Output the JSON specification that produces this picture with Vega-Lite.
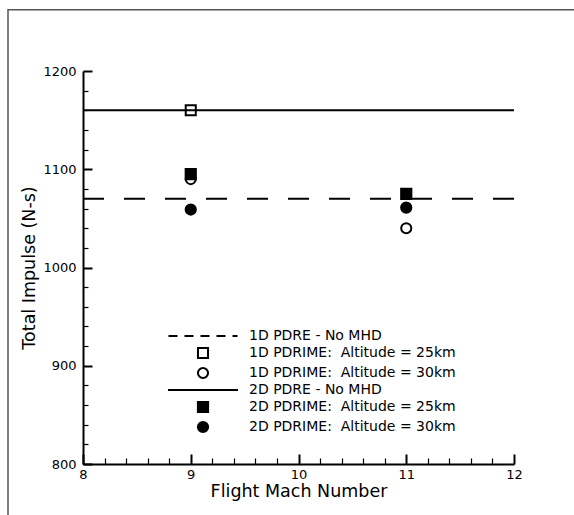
{
  "$schema": "https://vega.github.io/schema/vega-lite/v6.json",
  "width": 431,
  "height": 393,
  "autosize": {"type": "none"},
  "padding": {"left": 83, "top": 71, "right": 60, "bottom": 51},
  "background": "white",
  "config": {
    "view": {"stroke": null},
    "font": "DejaVu Sans"
  },
  "datasets": {
    "baselines": [
      {"series": "1D PDRE - No MHD", "mach": 8, "impulse": 1070},
      {"series": "1D PDRE - No MHD", "mach": 12, "impulse": 1070},
      {"series": "2D PDRE - No MHD", "mach": 8, "impulse": 1160},
      {"series": "2D PDRE - No MHD", "mach": 12, "impulse": 1160}
    ],
    "pdrime": [
      {"series": "1D PDRIME:\u00a0 Altitude = 25km", "mach": 9, "impulse": 1160},
      {"series": "1D PDRIME:\u00a0 Altitude = 30km", "mach": 9, "impulse": 1090},
      {"series": "1D PDRIME:\u00a0 Altitude = 30km", "mach": 11, "impulse": 1040},
      {"series": "2D PDRIME:\u00a0 Altitude = 25km", "mach": 9, "impulse": 1095},
      {"series": "2D PDRIME:\u00a0 Altitude = 25km", "mach": 11, "impulse": 1075},
      {"series": "2D PDRIME:\u00a0 Altitude = 30km", "mach": 9, "impulse": 1059},
      {"series": "2D PDRIME:\u00a0 Altitude = 30km", "mach": 11, "impulse": 1061}
    ]
  },
  "layer": [
    {
      "description": "page frame, drawn through the same scales as the data",
      "data": {"values": [{}]},
      "mark": {"type": "rect", "fill": "transparent", "stroke": "#555555", "strokeWidth": 1.5},
      "encoding": {
        "x": {"datum": 7.304, "type": "quantitative", "scale": {"domain": [8, 12], "nice": false, "zero": false}},
        "x2": {"datum": 12.9},
        "y": {"datum": 1262.4, "type": "quantitative", "scale": {"domain": [800, 1200], "nice": false, "zero": false}},
        "y2": {"datum": 730}
      }
    },
    {
      "data": {"name": "baselines"},
      "transform": [{"filter": "datum.series === '1D PDRE - No MHD'"}],
      "mark": {"type": "line", "stroke": "black", "strokeWidth": 2, "strokeDash": [21, 20]},
      "encoding": {
        "x": {"field": "mach", "type": "quantitative", "scale": {"domain": [8, 12], "nice": false, "zero": false}},
        "y": {"field": "impulse", "type": "quantitative", "scale": {"domain": [800, 1200], "nice": false, "zero": false}}
      }
    },
    {
      "data": {"name": "baselines"},
      "transform": [{"filter": "datum.series === '2D PDRE - No MHD'"}],
      "mark": {"type": "line", "stroke": "black", "strokeWidth": 2},
      "encoding": {
        "x": {"field": "mach", "type": "quantitative", "scale": {"domain": [8, 12], "nice": false, "zero": false}},
        "y": {"field": "impulse", "type": "quantitative", "scale": {"domain": [800, 1200], "nice": false, "zero": false}}
      }
    },
    {
      "data": {"name": "pdrime"},
      "mark": {"type": "point", "filled": true, "stroke": "black", "strokeWidth": 2, "opacity": 1},
      "encoding": {
        "x": {
          "field": "mach",
          "type": "quantitative",
          "scale": {"domain": [8, 12], "nice": false, "zero": false},
          "axis": {
            "title": "Flight Mach Number",
            "titleFontSize": 17.5,
            "titleFontWeight": "normal",
            "titleColor": "black",
            "titlePadding": -3,
            "values": [8, 8.2, 8.4, 8.6, 8.8, 9, 9.2, 9.4, 9.6, 9.8, 10, 10.2, 10.4, 10.6, 10.8, 11, 11.2, 11.4, 11.6, 11.8, 12],
            "tickCount": 200,
            "labelExpr": "datum.value % 1 === 0 ? format(datum.value, 'd') : ''",
            "labelFontSize": 13,
            "labelColor": "black",
            "labelPadding": 14,
            "labelOverlap": false,
            "labelFlush": false,
            "labelBound": false,
            "grid": false,
            "domainColor": "black",
            "domainWidth": 2,
            "tickColor": "black",
            "tickSize": {"condition": {"test": "datum.value % 1 === 0", "value": -10}, "value": -6},
            "tickWidth": {"condition": {"test": "datum.value % 1 === 0", "value": 2}, "value": 1.2}
          }
        },
        "y": {
          "field": "impulse",
          "type": "quantitative",
          "scale": {"domain": [800, 1200], "nice": false, "zero": false},
          "axis": {
            "title": "Total Impulse (N-s)",
            "titleFontSize": 17.5,
            "titleFontWeight": "normal",
            "titleColor": "black",
            "titlePadding": 4,
            "values": [800, 820, 840, 860, 880, 900, 920, 940, 960, 980, 1000, 1020, 1040, 1060, 1080, 1100, 1120, 1140, 1160, 1180, 1200],
            "tickCount": 200,
            "labelExpr": "datum.value % 100 === 0 ? format(datum.value, 'd') : ''",
            "labelFontSize": 13,
            "labelColor": "black",
            "labelPadding": 16,
            "labelOverlap": false,
            "labelFlush": false,
            "labelBound": false,
            "grid": false,
            "domainColor": "black",
            "domainWidth": 2,
            "tickColor": "black",
            "tickSize": {"condition": {"test": "datum.value % 100 === 0", "value": -9}, "value": -5},
            "tickWidth": {"condition": {"test": "datum.value % 100 === 0", "value": 2}, "value": 1.2}
          }
        },
        "shape": {
          "field": "series",
          "type": "nominal",
          "scale": {
            "domain": ["1D PDRE - No MHD", "1D PDRIME:\u00a0 Altitude = 25km", "1D PDRIME:\u00a0 Altitude = 30km", "2D PDRE - No MHD", "2D PDRIME:\u00a0 Altitude = 25km", "2D PDRIME:\u00a0 Altitude = 30km"],
            "range": ["M-6.9,0H-5.1M-3.7,0H-1.9M-0.5,0H1.3M2.7,0H4.5M5.9,0H6.9", "square", "circle", "M-6.9,0H6.9", "square", "circle"]
          },
          "legend": {
            "title": null,
            "orient": "none",
            "legendX": 113,
            "legendY": 258,
            "padding": 0,
            "labelFontSize": 14,
            "labelColor": "black",
            "labelLimit": 400,
            "labelOffset": 39,
            "rowPadding": 0,
            "symbolStrokeColor": "black",
            "symbolStrokeWidth": 2,
            "symbolOpacity": 1
          }
        },
        "fill": {
          "field": "series",
          "type": "nominal",
          "scale": {
            "domain": ["1D PDRE - No MHD", "1D PDRIME:\u00a0 Altitude = 25km", "1D PDRIME:\u00a0 Altitude = 30km", "2D PDRE - No MHD", "2D PDRIME:\u00a0 Altitude = 25km", "2D PDRIME:\u00a0 Altitude = 30km"],
            "range": ["transparent", "transparent", "transparent", "transparent", "black", "black"]
          }
        },
        "size": {
          "field": "series",
          "type": "nominal",
          "scale": {
            "domain": ["1D PDRE - No MHD", "1D PDRIME:\u00a0 Altitude = 25km", "1D PDRIME:\u00a0 Altitude = 30km", "2D PDRE - No MHD", "2D PDRIME:\u00a0 Altitude = 25km", "2D PDRIME:\u00a0 Altitude = 30km"],
            "range": [100, 105, 160, 100, 95, 130]
          }
        }
      }
    }
  ]
}
